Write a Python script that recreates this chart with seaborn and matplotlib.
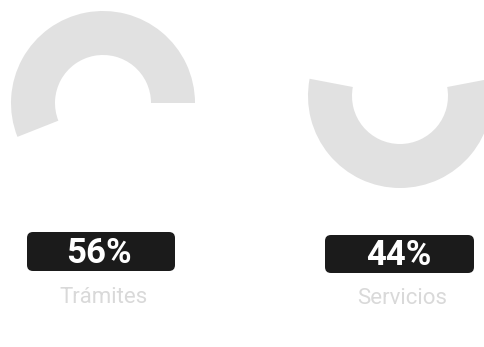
import matplotlib
matplotlib.use("Agg")
import matplotlib.pyplot as plt
from matplotlib.patches import FancyBboxPatch
import seaborn as sns

# Share of requests by channel
categories = ["Trámites", "Servicios"]
shares = [56, 44]
value_labels = ["56%", "44%"]

sns.set_theme(style="white")
plt.rcParams["font.family"] = ["Roboto", "DejaVu Sans"]

W, H = 485, 347
fig = plt.figure(figsize=(W / 100, H / 100), dpi=100)
ax = fig.add_axes([0, 0, 1, 1])

ring_color = "#e1e1e1"
radius, ring_width = 92, 44

# Left ring: the share itself, starting at 3 o'clock and sweeping counter-clockwise
ax.pie([shares[0], 100 - shares[0]], center=(103, H - 103), radius=radius,
       startangle=0, counterclock=True, colors=[ring_color, "none"],
       wedgeprops=dict(width=ring_width, linewidth=0))

# Right ring: the share is the opening at the top, the ring fills the rest
start = 90 - shares[1] * 3.6 / 2
ax.pie([shares[1], 100 - shares[1]], center=(400, H - 96), radius=radius,
       startangle=start, counterclock=True, colors=["none", ring_color],
       wedgeprops=dict(width=ring_width, linewidth=0))

# Value badges and category captions
badges = [(27, 175, H - 271, H - 232, 99, H - 263, 104, H - 303),
          (325, 474, H - 273, H - 235, 399, H - 265, 402, H - 304)]
for (x0, x1, y0, y1, tx, ty, cx, cy), lab, cat in zip(badges, value_labels, categories):
    ax.add_patch(FancyBboxPatch((x0 + 6, y0 + 6), (x1 - x0) - 12, (y1 - y0) - 12,
                                boxstyle="round,pad=6", facecolor="#1b1b1b",
                                edgecolor="none"))
    ax.text(tx, ty, lab, color="white", fontsize=25, fontweight="bold",
            ha="center", va="baseline")
    ax.text(cx, cy, cat, color="#d9d9d9", fontsize=16,
            ha="center", va="baseline")

ax.set_xlim(0, W)
ax.set_ylim(0, H)
ax.set_aspect("equal")
ax.axis("off")

fig.savefig("out.png", dpi=100, facecolor="white")
